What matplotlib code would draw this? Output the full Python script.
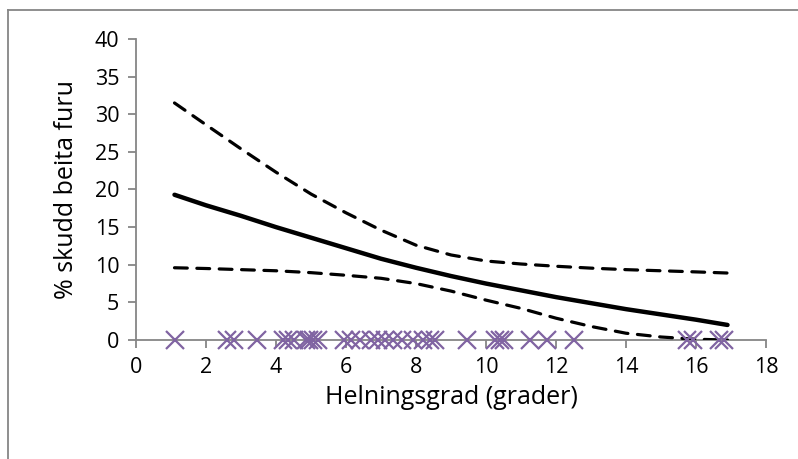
import matplotlib
matplotlib.use("Agg")
import matplotlib.pyplot as plt
from matplotlib.lines import Line2D

# fitted curve and confidence band
curve_x = [1.1, 2, 3, 4, 5, 6, 7, 8, 9, 10, 11, 12, 13, 14, 15, 16, 16.9]
fit = [19.3, 17.9, 16.5, 15.0, 13.6, 12.2, 10.8, 9.6, 8.5, 7.5, 6.6, 5.7, 4.9, 4.1, 3.4, 2.7, 2.0]
upper = [31.5, 28.6, 25.4, 22.3, 19.4, 16.9, 14.6, 12.6, 11.3, 10.5, 10.1, 9.8, 9.55, 9.35, 9.2, 9.05, 8.9]
lower = [9.6, 9.5, 9.35, 9.2, 8.95, 8.6, 8.2, 7.5, 6.5, 5.3, 4.2, 2.9, 1.8, 0.9, 0.4, 0.1, 0.0]

# observations (all at 0 %)
obs_x = [1.1, 2.6, 2.8, 3.45, 4.2, 4.35, 4.5, 4.85, 4.95, 5.05, 5.2, 5.95, 6.15, 6.4,
         6.7, 6.9, 7.1, 7.35, 7.6, 7.9, 8.2, 8.4, 8.55, 9.45, 10.25, 10.4, 10.5,
         11.25, 11.75, 12.5, 15.75, 15.9, 16.65, 16.8]
obs_y = [0] * len(obs_x)

xticks = list(range(0, 19, 2))
yticks = list(range(0, 41, 5))

plt.rcParams['font.family'] = ['Open Sans', 'DejaVu Sans']

fig = plt.figure(figsize=(7.98, 4.59), dpi=100)
ax = fig.add_axes([136 / 798, 1 - 340 / 459, 630 / 798, 301 / 459])

ax.plot(curve_x, upper, color='black', lw=2.3, ls=(0, (4, 3)), dash_capstyle='round', zorder=3)
ax.plot(curve_x, lower, color='black', lw=2.3, ls=(0, (4, 3)), dash_capstyle='round', zorder=3)
ax.plot(curve_x, fit, color='black', lw=3.2, solid_capstyle='round', zorder=3)
ax.plot(obs_x, obs_y, ls='none', marker='x', ms=13, mew=1.6, color='#8064a2', zorder=4,
        clip_on=False)

ax.set_xlim(0, 18)
ax.set_ylim(0, 40)
ax.set_xticks(xticks)
ax.set_yticks(yticks)

grey = '#868686'
for s in ['top', 'right']:
    ax.spines[s].set_visible(False)
for s in ['left', 'bottom']:
    ax.spines[s].set_color(grey)
    ax.spines[s].set_linewidth(1.3)
ax.tick_params(axis='both', colors=grey, length=6, width=1.3, labelsize=15.5,
               labelcolor='black', pad=6)

ax.set_xlabel('Helningsgrad (grader)', fontsize=18, labelpad=5)
ax.set_ylabel('% skudd beita furu', fontsize=18, labelpad=11)

# outer chart frame (only top and left edges visible)
fig.add_artist(Line2D([8 / 798, 1], [1 - 9.5 / 459] * 2, color=grey, lw=1.3))
fig.add_artist(Line2D([8 / 798] * 2, [0, 1 - 9.5 / 459], color=grey, lw=1.3))

fig.savefig('out.png', dpi=100)
